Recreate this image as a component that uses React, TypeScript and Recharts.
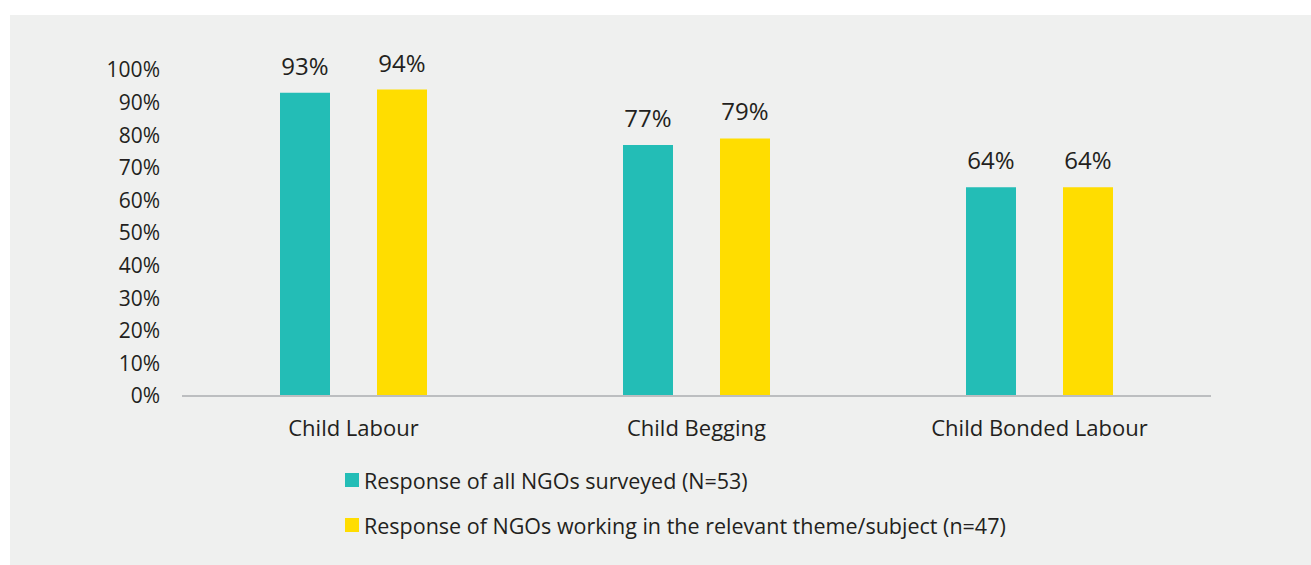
import React from 'react';
import { BarChart, Bar, XAxis, YAxis, LabelList } from 'recharts';

const categories = ['Child Labour', 'Child Begging', 'Child Bonded Labour'];
const allNgos = [93, 77, 64];
const themeNgos = [94, 79, 64];
const yTicks = [0, 10, 20, 30, 40, 50, 60, 70, 80, 90, 100];

const seriesNames = [
  'Response of all NGOs surveyed (N=53)',
  'Response of NGOs working in the relevant theme/subject (n=47)',
];
const seriesColors = ['#23bdb6', '#ffdd00'];

const data = categories.map((name, i) => ({ name, all: allNgos[i], theme: themeNgos[i] }));

const FONT = "'Open Sans', sans-serif";
const TEXT = '#231f20';

const pct = (v: number) => `${v}%`;

export default function App() {
  return (
    <div style={{ position: 'absolute', left: 0, top: 0, width: 1311, height: 565, background: '#fff', fontFamily: FONT }}>
      <div style={{ position: 'absolute', left: 10, top: 15, width: 1301, height: 550, background: '#eff0ef' }} />
      <div style={{ position: 'absolute', left: 0, top: 0 }}>
        <BarChart
          width={1311}
          height={565}
          data={data}
          margin={{ top: 70, right: 100, bottom: 139, left: 102 }}
          barSize={50}
          barGap={47}
        >
          <XAxis
            dataKey="name"
            height={30}
            tickLine={false}
            tickSize={0}
            tickMargin={24}
            axisLine={{ stroke: '#bcbec0', strokeWidth: 2 }}
            tick={{ fill: TEXT, fontSize: 22, fontFamily: FONT }}
          />
          <YAxis
            width={80}
            domain={[0, 100]}
            ticks={yTicks}
            interval={0}
            tickFormatter={pct}
            axisLine={false}
            tickLine={false}
            tickSize={0}
            tickMargin={22}
            tick={{ fill: TEXT, fontSize: 21, fontFamily: FONT }}
          />
          <Bar dataKey="all" name={seriesNames[0]} fill={seriesColors[0]} isAnimationActive={false}>
            <LabelList dataKey="all" position="top" offset={18} formatter={pct} style={{ fill: TEXT, fontSize: 24, fontFamily: FONT }} />
          </Bar>
          <Bar dataKey="theme" name={seriesNames[1]} fill={seriesColors[1]} isAnimationActive={false}>
            <LabelList dataKey="theme" position="top" offset={18} formatter={pct} style={{ fill: TEXT, fontSize: 24, fontFamily: FONT }} />
          </Bar>
        </BarChart>
      </div>
      {seriesNames.map((s, i) => (
        <div
          key={s}
          style={{
            position: 'absolute',
            left: 345,
            top: 466 + i * 45,
            height: 28,
            display: 'flex',
            alignItems: 'center',
            color: TEXT,
            fontSize: 21.5,
            whiteSpace: 'nowrap',
          }}
        >
          <span style={{ display: 'inline-block', width: 14, height: 14, background: seriesColors[i], marginRight: 5 }} />
          {s}
        </div>
      ))}
    </div>
  );
}
